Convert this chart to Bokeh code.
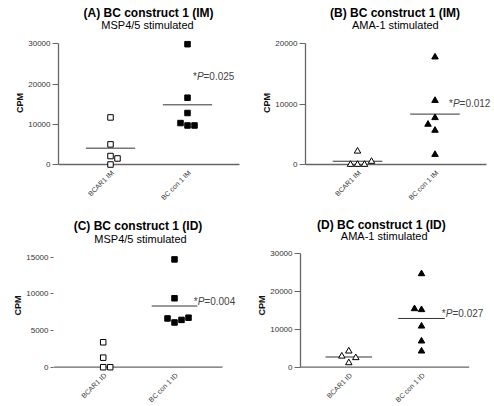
import numpy as np
from bokeh.plotting import figure
from bokeh.models import Range1d, FixedTicker, Label
from bokeh.core.properties import value
from bokeh.layouts import column, row
from bokeh.embed import file_html
from bokeh.resources import INLINE

FONT = "Liberation Sans"

# ---- data (CPM) ----
cats_im = ["BCAR1 IM", "BC con 1 IM"]
cats_id = ["BCAR1 ID", "BC con 1 ID"]

a_ctrl = [11700, 5000, 2100, 1500, 0]
a_con = [29900, 16600, 12800, 10300, 9700, 9700]
b_ctrl = [2200, 500, 0, 0, 0]
b_con = [17800, 10600, 7750, 6650, 5650, 1650]
c_ctrl = [3400, 1300, 0, 0]
c_con = [14700, 9400, 6750, 6650, 6450, 6100]
d_ctrl = [4250, 2900, 2500, 1150]
d_con = [24700, 15450, 15200, 10850, 6900, 4250]

a_ticks = [0, 10000, 20000, 30000]
b_ticks = [0, 10000, 20000]
c_ticks = [0, 5000, 10000, 15000]
d_ticks = [0, 10000, 20000, 30000]

p_values = ["0.025", "0.012", "0.004", "0.027"]
# where each P-value note sits (category units, CPM)
p_pos = [(2.07, 21900), (2.18, 10100), (2.27, 9000), (2.28, 14300)]


def swarm(vals, side, dx, dy):
    vals = np.asarray(vals, dtype=float)
    order = np.argsort(vals, kind="stable")
    placed = []
    offs = np.zeros(len(vals))
    slots = [0, side, -side, 2 * side, -2 * side, 3 * side, -3 * side]
    for i in order:
        y = vals[i]
        for s in slots:
            if all(not (ps == s and abs(y - py) < dy) for py, ps in placed):
                break
        placed.append((y, s))
        offs[i] = s * dx
    return offs


def panel(main, sub, cats, ctrl, con, marker, msize, ticks, pval, pxy,
          ox, oy, w, h, l, y0_px, ytop_px, c1_px, c2_px, xend_px,
          title_px, sub_px, sides=(1, 1), show_mean=(True, True),
          yline=True, tick_out=6):
    ymax = ticks[-1]
    sy = (y0_px - ytop_px) / ymax          # px per CPM
    sx = c2_px - c1_px                      # px per category step
    y_hi = (y0_px - oy) / sy
    y_lo = -(oy + h - y0_px) / sy
    x_lo = 1 - (c1_px - (ox + l)) / sx
    x_hi = 1 + (ox + w - c1_px) / sx

    def dxp(px):
        return 1 + (px - c1_px) / sx

    def dyp(py):
        return (y0_px - py) / sy

    p = figure(width=w, height=h, output_backend="svg", toolbar_location=None,
               title=None, x_axis_location=None,
               x_range=Range1d(x_lo, x_hi), y_range=Range1d(y_lo, y_hi),
               min_border_left=l, min_border_right=0, min_border_top=0,
               min_border_bottom=0)
    p.outline_line_color = None
    p.xgrid.visible = False
    p.ygrid.visible = False

    ya = p.yaxis[0]
    ya.ticker = FixedTicker(ticks=ticks)
    ya.bounds = (0, ymax)
    ya.axis_line_color = "#666666" if yline else None
    ya.axis_line_width = 1.3
    ya.major_tick_line_color = "#666666"
    ya.major_tick_out = tick_out
    ya.major_tick_in = 0
    ya.minor_tick_line_color = None
    ya.major_label_standoff = 2
    ya.major_label_text_font = FONT
    ya.major_label_text_font_size = "8px"
    ya.major_label_text_color = "#333333"
    ya.axis_label = "CPM"
    ya.axis_label_text_font = FONT
    ya.axis_label_text_font_size = "9px"
    ya.axis_label_text_font_style = "bold"
    ya.axis_label_text_color = "#111111"
    ya.axis_label_standoff = 0

    # x axis line at CPM = 0
    p.segment(x0=[x_lo], y0=[0], x1=[dxp(xend_px)], y1=[0],
              line_color="#666666", line_width=1.3)
    # category labels
    p.text(x=[1, 2], y=[0, 0], text=cats, angle=np.pi / 4,
           text_align="right", text_baseline="middle", x_offset=2, y_offset=7,
           text_font=value(FONT), text_font_size="7px", text_color="#333333")

    dxu = 7.0 / sx
    dyu = 7.5 / sy
    for k, vals in enumerate([ctrl, con]):
        c = k + 1
        if show_mean[k]:
            m = float(np.mean(vals))
            p.segment(x0=[c - 0.32], y0=[m], x1=[c + 0.32], y1=[m],
                      line_color="#333333", line_width=1)
        xs = c + swarm(vals, sides[k], dxu, dyu)
        p.scatter(x=xs, y=vals, marker=marker, size=msize,
                  fill_color="white" if k == 0 else "black",
                  line_color="black", line_width=1)

    px, py = pxy
    p.add_layout(Label(x=px, y=py, text="*", text_font=FONT,
                       text_font_size="10px", text_baseline="middle"))
    p.add_layout(Label(x=px, y=py, x_offset=4, text="P", text_font=FONT,
                       text_font_size="10px", text_font_style="italic",
                       text_baseline="middle"))
    p.add_layout(Label(x=px, y=py, x_offset=10.6, text="=" + pval,
                       text_font=FONT, text_font_size="10px",
                       text_baseline="middle"))

    p.text(x=[dxp(title_px[0])], y=[dyp(title_px[1])], text=[main],
           text_align="center", text_baseline="middle",
           text_font=value(FONT), text_font_size="12px",
           text_font_style="bold", text_color="black")
    p.text(x=[dxp(sub_px[0])], y=[dyp(sub_px[1])], text=[sub],
           text_align="center", text_baseline="middle",
           text_font=value(FONT), text_font_size="11px",
           text_font_style="normal", text_color="black")
    return p


W, H1, H2 = 246, 205, 200
pA = panel("(A) BC construct 1 (IM)", "MSP4/5 stimulated", cats_im, a_ctrl, a_con,
           "square", 5.5, a_ticks, p_values[0], p_pos[0],
           0, 0, W, H1, 58, 164.0, 43.3, 110.0, 187.0, 239.0,
           (148.0, 12.7), (147.0, 24.0))
pB = panel("(B) BC construct 1 (IM)", "AMA-1 stimulated", cats_im, b_ctrl, b_con,
           "triangle", 6.5, b_ticks, p_values[1], p_pos[1],
           W, 0, W, H1, 59, 164.0, 43.3, 357.0, 434.5, 486.0,
           (394.5, 12.7), (394.8, 24.0), sides=(1, -1))
pC = panel("(C) BC construct 1 (ID)", "MSP4/5 stimulated", cats_id, c_ctrl, c_con,
           "square", 5.5, c_ticks, p_values[2], p_pos[2],
           0, H1, W, H2, 53, 366.7, 256.7, 102.7, 174.0, 222.0,
           (137.5, 225.0), (140.0, 238.3), show_mean=(False, True),
           yline=False, tick_out=3)
pD = panel("(D) BC construct 1 (ID)", "AMA-1 stimulated", cats_id, d_ctrl, d_con,
           "triangle", 6.5, d_ticks, p_values[3], p_pos[3],
           W, H1, W, H2, 54, 366.7, 253.3, 348.3, 421.0, 468.7,
           (380.8, 224.0), (383.7, 235.7), sides=(1, -1))

layout = column(row(pA, pB), row(pC, pD))
open("out.html", "w").write(file_html(layout, INLINE))
